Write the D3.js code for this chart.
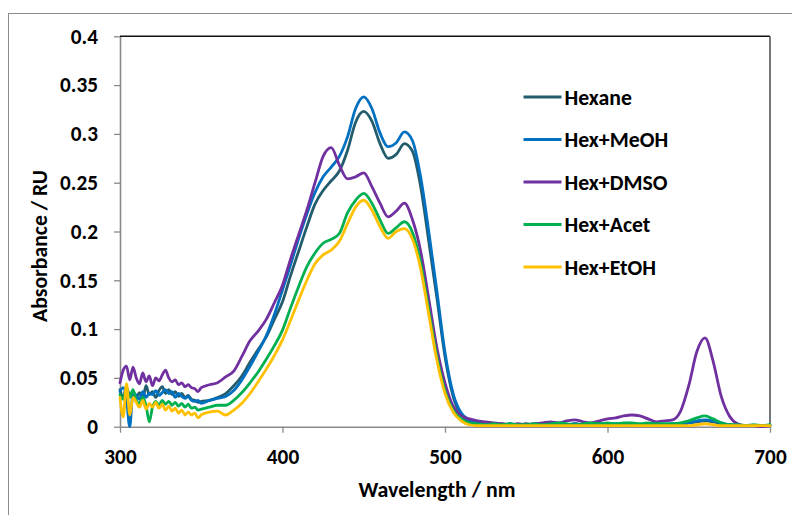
<!DOCTYPE html>
<html>
<head>
<meta charset="utf-8">
<script src="https://cdn.jsdelivr.net/npm/d3@7"></script>
<style>
  html, body { margin: 0; padding: 0; background: #fff; }
  svg { display: block; }
  text { font-family: Carlito, Calibri, Lato, "Open Sans", sans-serif; font-weight: bold; fill: #000; }
</style>
</head>
<body>
<svg id="chart" width="792" height="515"></svg>
<script>
// ---------------- data ----------------
const wavelengths = [
  300,302,304,306,308,310,312,314,316,318,320,322,324,326,328,330,332,334,336,338,340,342,344,346,348,350,
  355,360,365,370,375,380,385,390,395,400,405,410,415,420,425,430,435,440,445,450,455,460,465,470,475,480,
  485,490,495,500,505,510,515,520,525,530,535,540,545,550,555,560,565,570,575,580,585,590,595,600,605,610,
  615,620,625,630,635,640,645,650,655,660,665,670,675,680,685,690,695,700
];

const hexane = [
  0.038,0.030,0.040,0.032,0.036,0.030,0.035,0.028,0.042,0.033,0.036,0.030,0.037,0.041,0.034,0.038,0.033,0.036,0.031,0.034,0.030,0.032,0.028,0.027,0.025,0.026,
  0.027,0.030,0.034,0.042,0.052,0.066,0.079,0.092,0.110,0.128,0.155,0.180,0.205,0.228,0.242,0.252,0.262,0.283,0.312,0.323,0.313,0.290,0.275,0.279,0.290,0.282,
  0.246,0.190,0.132,0.072,0.031,0.012,0.006,0.004,0.003,0.002,0.003,0.002,0.002,0.003,0.002,0.002,0.003,0.002,0.002,0.003,0.002,0.002,0.003,0.002,0.002,0.003,
  0.002,0.002,0.003,0.002,0.002,0.002,0.003,0.004,0.005,0.006,0.005,0.003,0.002,0.001,0.001,0.001,0.001,0.001
];

const hexMeOH = [
  0.036,0.040,0.028,0.000,0.035,0.032,0.028,0.036,0.030,0.034,0.033,0.037,0.032,0.035,0.038,0.034,0.036,0.030,0.034,0.031,0.029,0.031,0.027,0.026,0.027,0.024,
  0.027,0.029,0.031,0.037,0.048,0.062,0.077,0.093,0.115,0.140,0.166,0.193,0.218,0.240,0.256,0.266,0.277,0.297,0.326,0.338,0.326,0.301,0.287,0.291,0.302,0.293,
  0.256,0.200,0.139,0.076,0.034,0.014,0.007,0.004,0.003,0.003,0.002,0.003,0.002,0.002,0.003,0.002,0.002,0.003,0.002,0.003,0.002,0.002,0.003,0.002,0.003,0.002,
  0.003,0.002,0.002,0.003,0.002,0.003,0.003,0.004,0.006,0.007,0.006,0.004,0.002,0.001,0.001,0.001,0.001,0.001
];

const hexDMSO = [
  0.045,0.058,0.062,0.048,0.061,0.050,0.044,0.055,0.046,0.052,0.042,0.050,0.047,0.053,0.058,0.050,0.046,0.048,0.043,0.045,0.041,0.043,0.040,0.039,0.036,0.040,
  0.043,0.045,0.051,0.057,0.072,0.088,0.098,0.110,0.127,0.145,0.172,0.197,0.222,0.250,0.277,0.286,0.268,0.254,0.256,0.260,0.246,0.229,0.215,0.221,0.229,0.212,
  0.180,0.131,0.081,0.045,0.021,0.011,0.008,0.006,0.005,0.004,0.003,0.002,0.003,0.002,0.003,0.004,0.005,0.004,0.006,0.007,0.005,0.004,0.006,0.008,0.009,0.011,
  0.012,0.011,0.008,0.005,0.006,0.007,0.016,0.042,0.077,0.091,0.067,0.031,0.011,0.003,0.001,0.001,0.000,0.001
];

const hexAcet = [
  0.033,0.028,0.040,0.030,0.038,0.027,0.024,0.030,0.022,0.005,0.020,0.026,0.022,0.027,0.023,0.026,0.022,0.025,0.021,0.024,0.020,0.023,0.019,0.020,0.017,0.018,
  0.020,0.022,0.022,0.027,0.035,0.045,0.056,0.069,0.083,0.099,0.122,0.144,0.164,0.178,0.188,0.192,0.198,0.219,0.232,0.239,0.229,0.212,0.198,0.204,0.210,0.199,
  0.168,0.120,0.072,0.037,0.017,0.008,0.004,0.003,0.002,0.003,0.002,0.003,0.002,0.002,0.003,0.002,0.003,0.004,0.003,0.002,0.003,0.004,0.003,0.004,0.003,0.004,
  0.004,0.003,0.004,0.003,0.003,0.003,0.004,0.006,0.009,0.011,0.008,0.004,0.002,0.002,0.001,0.002,0.001,0.002
];

const hexEtOH = [
  0.030,0.010,0.044,0.012,0.030,0.025,0.020,0.027,0.018,0.024,0.020,0.025,0.019,0.023,0.017,0.021,0.016,0.019,0.014,0.017,0.012,0.015,0.012,0.014,0.009,0.012,
  0.015,0.016,0.012,0.017,0.024,0.034,0.046,0.059,0.073,0.089,0.109,0.130,0.150,0.167,0.176,0.181,0.190,0.208,0.225,0.232,0.222,0.205,0.193,0.200,0.203,0.192,
  0.162,0.115,0.068,0.034,0.015,0.006,0.002,0.001,0.001,0.001,0.001,0.001,0.001,0.001,0.001,0.001,0.001,0.001,0.001,0.001,0.001,0.001,0.001,0.001,0.001,0.001,
  0.001,0.001,0.001,0.001,0.001,0.001,0.001,0.001,0.002,0.003,0.002,0.001,0.001,0.001,0.001,0.001,0.001,0.001
];

const seriesNames  = ["Hexane", "Hex+MeOH", "Hex+DMSO", "Hex+Acet", "Hex+EtOH"];
const seriesValues = [hexane, hexMeOH, hexDMSO, hexAcet, hexEtOH];
const seriesColors = ["#235C6C", "#0070C0", "#7030A0", "#00B050", "#FFC000"];

const xTicks = [300, 400, 500, 600, 700];
const xTickLabels = ["300", "400", "500", "600", "700"];
const yTicks = [0, 0.05, 0.1, 0.15, 0.2, 0.25, 0.3, 0.35, 0.4];
const yTickLabels = ["0", "0.05", "0.1", "0.15", "0.2", "0.25", "0.3", "0.35", "0.4"];

const xTitle = "Wavelength / nm";
const yTitle = "Absorbance / RU";

// ---------------- layout ----------------
const svg = d3.select("#chart");
const plot = { left: 120, right: 770, top: 36.3, bottom: 426.7 };

const x = d3.scaleLinear().domain([300, 700]).range([plot.left, plot.right]);
const y = d3.scaleLinear().domain([0, 0.4]).range([plot.bottom, plot.top]);

// outer chart border
svg.append("rect")
  .attr("x", 8.5).attr("y", 13.5)
  .attr("width", 900).attr("height", 700)
  .attr("fill", "none").attr("stroke", "#8c8c8c").attr("stroke-width", 1);

function fitFont(sel, target) {
  const w = sel.node().getComputedTextLength();
  const fs = parseFloat(sel.attr("font-size"));
  return fs * target / w;
}

// measure tick font size so that "0.25" is ~38px wide
const probe = svg.append("text").attr("font-size", 18).text("0.25");
const tickFS = fitFont(probe, 38);
probe.remove();

// axes
const yAxis = d3.axisLeft(y)
  .tickValues(yTicks)
  .tickFormat((d, i) => yTickLabels[i])
  .tickSize(6).tickSizeOuter(0).tickPadding(16);
const gy = svg.append("g").attr("transform", `translate(${plot.left},0)`).call(yAxis);

const xAxis = d3.axisBottom(x)
  .tickValues(xTicks)
  .tickFormat((d, i) => xTickLabels[i])
  .tickSize(6).tickSizeOuter(0).tickPadding(16);
const gx = svg.append("g").attr("transform", `translate(0,${plot.bottom})`).call(xAxis);

[gx, gy].forEach(g => {
  g.attr("font-family", null).attr("font-size", null);
  g.select(".domain").attr("stroke", "#8a8a8a").attr("stroke-width", 1.6);
  g.selectAll(".tick line").attr("stroke", "#8a8a8a").attr("stroke-width", 1.3);
  g.selectAll(".tick text").attr("font-size", tickFS).attr("fill", "#000");
});

// top and right plot-area borders
svg.append("line")
  .attr("x1", plot.left).attr("x2", plot.right)
  .attr("y1", plot.top).attr("y2", plot.top)
  .attr("stroke", "#111").attr("stroke-width", 1.5);
svg.append("line")
  .attr("x1", plot.right).attr("x2", plot.right)
  .attr("y1", plot.top).attr("y2", plot.bottom)
  .attr("stroke", "#555").attr("stroke-width", 1.6);

// series lines
const line = d3.line()
  .x((d, i) => x(wavelengths[i]))
  .y(d => y(d))
  .curve(d3.curveMonotoneX);

svg.append("g").selectAll("path")
  .data(seriesValues)
  .join("path")
  .attr("d", d => line(d))
  .attr("fill", "none")
  .attr("stroke", (d, i) => seriesColors[i])
  .attr("stroke-width", 2.8)
  .attr("stroke-linejoin", "round")
  .attr("stroke-linecap", "round");

// axis titles
const xt = svg.append("text")
  .attr("x", 437).attr("y", 497)
  .attr("text-anchor", "middle")
  .attr("font-size", 18)
  .text(xTitle);
xt.attr("font-size", fitFont(xt, 157));

const yt = svg.append("text")
  .attr("transform", "translate(46.5,246) rotate(-90)")
  .attr("text-anchor", "middle")
  .attr("font-size", 18)
  .text(yTitle);
yt.attr("font-size", fitFont(yt, 152));

// legend
const legendRowY = d3.scaleLinear().domain([0, 4]).range([97, 267]);
const lg = svg.append("g");
const rows = lg.selectAll("g")
  .data(seriesNames)
  .join("g")
  .attr("transform", (d, i) => `translate(0,${legendRowY(i)})`);
rows.append("line")
  .attr("x1", 523.5).attr("x2", 561.5)
  .attr("y1", 0).attr("y2", 0)
  .attr("stroke", (d, i) => seriesColors[i])
  .attr("stroke-width", 3);
const ltexts = rows.append("text")
  .attr("x", 564.5).attr("y", 0)
  .attr("dy", "0.35em")
  .attr("font-size", 18)
  .text(d => d);
const legFS = fitFont(ltexts.filter((d, i) => i === 2), 103);
ltexts.attr("font-size", legFS);
</script>
</body>
</html>
